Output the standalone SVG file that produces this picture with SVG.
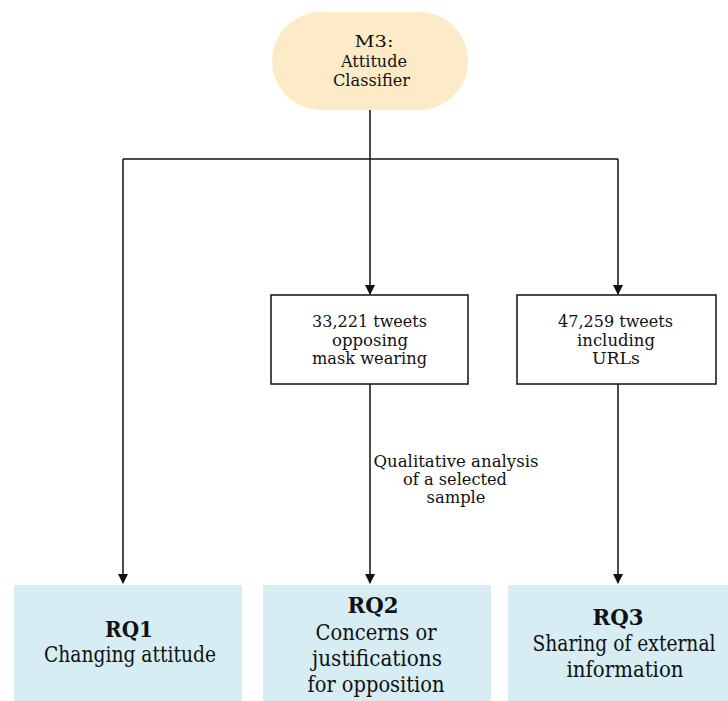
<svg xmlns="http://www.w3.org/2000/svg" width="728" height="701" viewBox="0 0 728 701">
<style>
text{font-family:"DejaVu Serif",serif;fill:#111;text-anchor:middle}
.s{font-size:16.6px}
.l{font-size:16.2px}
.b{font-size:21.5px}
.bold{font-weight:bold}
.box{fill:#fff;stroke:#111;stroke-width:1.5}
.rq{fill:#d6edf4}
.c{fill:none;stroke:#111;stroke-width:1.5}
</style>
<defs>
<marker id="ah" markerWidth="10" markerHeight="10" refX="9" refY="5" orient="auto" markerUnits="userSpaceOnUse">
<path d="M0,0 L10,5 L0,10 Z" fill="#111"/>
</marker>
</defs>
<rect width="728" height="701" fill="#fff"/>
<g id="connectors">
<path class="c" d="M370,110 V294" marker-end="url(#ah)"/>
<path class="c" d="M123,159 H618"/>
<path class="c" d="M123,159 V583" marker-end="url(#ah)"/>
<path class="c" d="M618,159 V294" marker-end="url(#ah)"/>
<path class="c" d="M370,384 V583" marker-end="url(#ah)"/>
<path class="c" d="M618,384 V583" marker-end="url(#ah)"/>
<text class="l" x="456" y="467" textLength="165" lengthAdjust="spacingAndGlyphs">Qualitative analysis</text>
<text class="l" x="455" y="485" textLength="104" lengthAdjust="spacingAndGlyphs">of a selected</text>
<text class="l" x="456" y="503" textLength="59" lengthAdjust="spacingAndGlyphs">sample</text>
</g>
<g id="m3">
<rect x="272" y="12" width="196" height="98" rx="49" fill="#fdebc8"/>
<text class="s" x="374" y="47" textLength="39" lengthAdjust="spacingAndGlyphs">M3:</text>
<text class="s" x="374" y="66.5" textLength="66" lengthAdjust="spacingAndGlyphs">Attitude</text>
<text class="s" x="371.5" y="86" textLength="77" lengthAdjust="spacingAndGlyphs">Classifier</text>
</g>
<g id="opposing">
<rect class="box" x="271" y="295" width="197" height="89"/>
<text class="s" x="369.5" y="327" textLength="115" lengthAdjust="spacingAndGlyphs">33,221 tweets</text>
<text class="s" x="370" y="345.5" textLength="76" lengthAdjust="spacingAndGlyphs">opposing</text>
<text class="s" x="369.5" y="364" textLength="115" lengthAdjust="spacingAndGlyphs">mask wearing</text>
</g>
<g id="urls">
<rect class="box" x="517" y="295" width="199" height="89"/>
<text class="s" x="615.5" y="327" textLength="115" lengthAdjust="spacingAndGlyphs">47,259 tweets</text>
<text class="s" x="616" y="345.5" textLength="78" lengthAdjust="spacingAndGlyphs">including</text>
<text class="s" x="616" y="364" textLength="48" lengthAdjust="spacingAndGlyphs">URLs</text>
</g>
<g id="rq1">
<rect class="rq" x="14" y="585" width="228" height="116"/>
<text class="b bold" x="129" y="637" textLength="48" lengthAdjust="spacingAndGlyphs">RQ1</text>
<text class="b" x="130" y="662" textLength="172" lengthAdjust="spacingAndGlyphs">Changing attitude</text>
</g>
<g id="rq2">
<rect class="rq" x="263" y="585" width="228" height="116"/>
<text class="b bold" x="373" y="613" textLength="51" lengthAdjust="spacingAndGlyphs">RQ2</text>
<text class="b" x="376" y="640" textLength="121" lengthAdjust="spacingAndGlyphs">Concerns or</text>
<text class="b" x="377" y="666" textLength="130" lengthAdjust="spacingAndGlyphs">justifications</text>
<text class="b" x="376" y="692" textLength="137" lengthAdjust="spacingAndGlyphs">for opposition</text>
</g>
<g id="rq3">
<rect class="rq" x="508" y="585" width="220" height="116"/>
<text class="b bold" x="618" y="625" textLength="51" lengthAdjust="spacingAndGlyphs">RQ3</text>
<text class="b" x="624" y="651" textLength="183" lengthAdjust="spacingAndGlyphs">Sharing of external</text>
<text class="b" x="625" y="677" textLength="117" lengthAdjust="spacingAndGlyphs">information</text>
</g>
</svg>
